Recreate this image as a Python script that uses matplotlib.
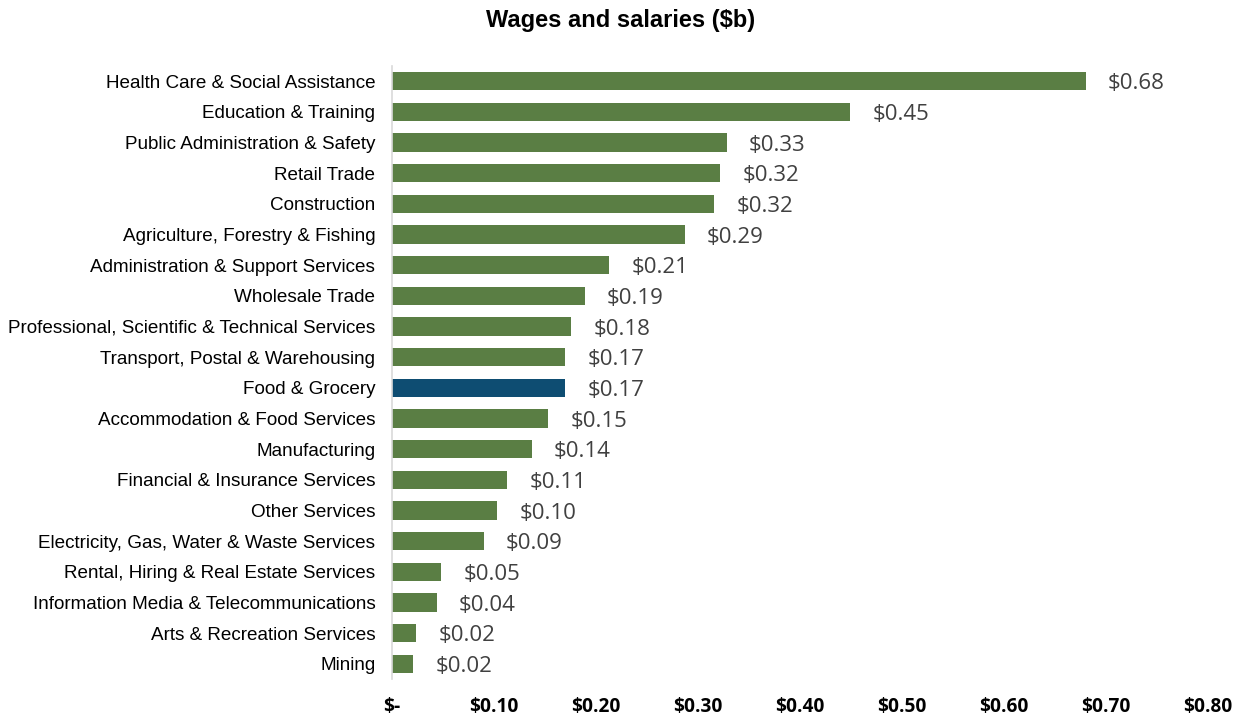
import matplotlib
matplotlib.use("Agg")
import matplotlib.pyplot as plt

# data, top to bottom
industries = ["Health Care & Social Assistance", "Education & Training",
              "Public Administration & Safety", "Retail Trade", "Construction",
              "Agriculture, Forestry & Fishing", "Administration & Support Services",
              "Wholesale Trade", "Professional, Scientific & Technical Services",
              "Transport, Postal & Warehousing", "Food & Grocery",
              "Accommodation & Food Services", "Manufacturing",
              "Financial & Insurance Services", "Other Services",
              "Electricity, Gas, Water & Waste Services",
              "Rental, Hiring & Real Estate Services",
              "Information Media & Telecommunications",
              "Arts & Recreation Services", "Mining"]
wages = [0.680, 0.449, 0.328, 0.322, 0.316, 0.287, 0.213, 0.189, 0.176, 0.170,
         0.170, 0.153, 0.137, 0.113, 0.103, 0.090, 0.048, 0.044, 0.024, 0.021]
highlight = "Food & Grocery"

xticks = [0, 0.1, 0.2, 0.3, 0.4, 0.5, 0.6, 0.7, 0.8]
xticklabels = ["$-", "$0.10", "$0.20", "$0.30", "$0.40", "$0.50", "$0.60", "$0.70", "$0.80"]

green = "#5A7E44"
blue = "#0E4D72"

fig = plt.figure(figsize=(12.42, 7.18), dpi=100)
ax = fig.add_axes([0.3156, 0.054, 0.657, 0.8545])

pos = list(range(len(industries)))
colors = [blue if name == highlight else green for name in industries]
ax.barh(pos, wages, height=0.6, color=colors)
ax.set_ylim(len(industries) - 0.5, -0.5)
ax.set_xlim(0, 0.8)

ax.set_yticks(pos)
ax.set_yticklabels(industries, fontsize=13.6, family="Liberation Sans")
ax.set_xticks(xticks)
ax.set_xticklabels(xticklabels, fontsize=13.8, fontweight="bold", family="Open Sans")
ax.tick_params(axis="both", length=0)
ax.tick_params(axis="x", pad=13)
ax.tick_params(axis="y", pad=12)

for sp in ["top", "right", "bottom"]:
    ax.spines[sp].set_visible(False)
ax.spines["left"].set_color("#D9D9D9")
ax.spines["left"].set_linewidth(1.2)

# value labels
for p, v in zip(pos, wages):
    ax.annotate("$%.2f" % v, (v, p), xytext=(16, -2), textcoords="offset points",
                va="center", ha="left", fontsize=16, color="#404040",
                family="Open Sans")

fig.suptitle("Wages and salaries ($b)", y=0.988, fontsize=17, fontweight="bold",
             family="Liberation Sans", x=0.5)

fig.savefig("out.png", dpi=100)
